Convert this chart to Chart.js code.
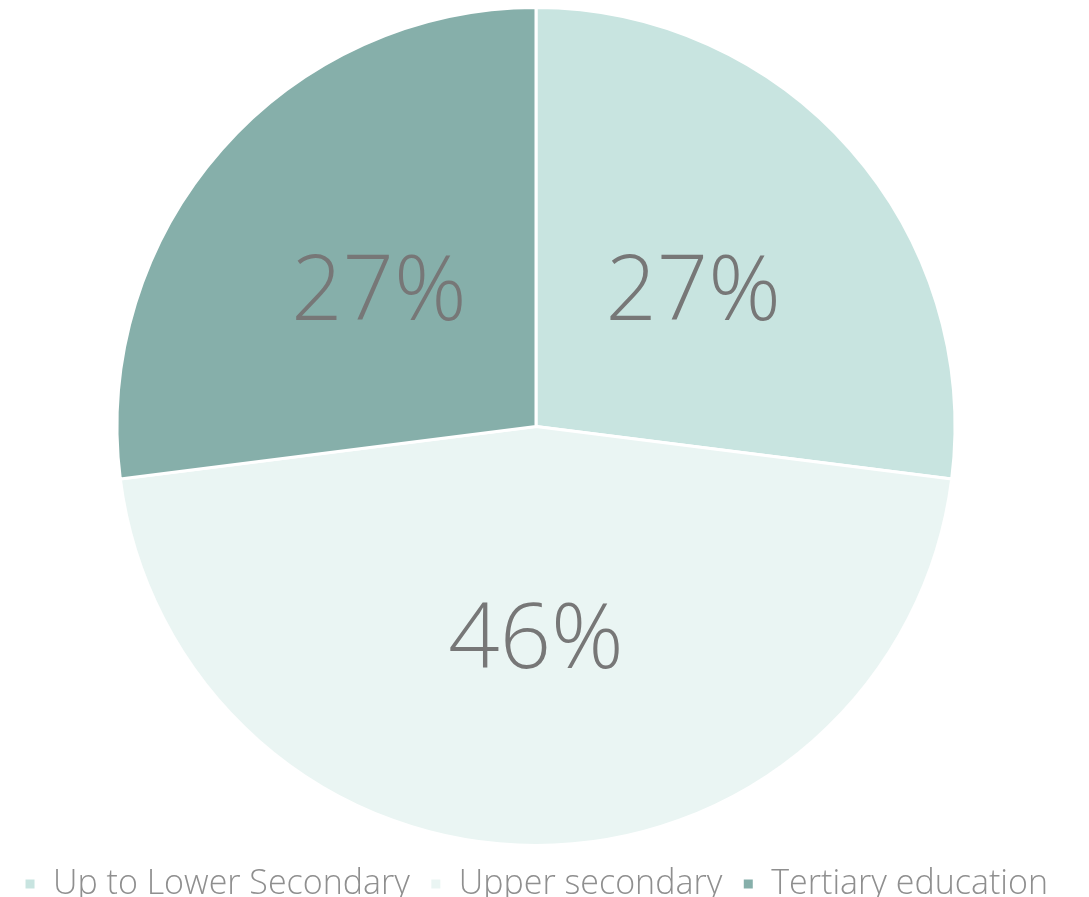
<!DOCTYPE html>
<html>
<head>
<meta charset="utf-8">
<script src="https://cdn.jsdelivr.net/npm/chart.js@4"></script>
<style>
  html, body { margin: 0; padding: 0; background: #fff; }
  #wrap { width: 1089px; height: 897px; }
</style>
</head>
<body>
<div id="wrap"><canvas id="eduChart"></canvas></div>
<script>
// Education level shares
const categories = ["Up to Lower Secondary", "Upper secondary", "Tertiary education"];
const shares = [27, 46, 27];
const sliceColors = ["#c8e4e0", "#eaf5f3", "#86afaa"];

const FONT = "'Open Sans', 'Noto Sans', sans-serif";

// Percentage labels in the middle of each slice
const sliceLabels = {
  id: "sliceLabels",
  afterDatasetsDraw(chart) {
    const ctx = chart.ctx;
    const meta = chart.getDatasetMeta(0);
    ctx.save();
    ctx.font = "300 90px " + FONT;
    ctx.fillStyle = "#777777";
    ctx.textAlign = "center";
    ctx.textBaseline = "middle";
    meta.data.forEach((arc, i) => {
      const pos = arc.tooltipPosition();
      ctx.fillText(shares[i] + "%", pos.x, pos.y + 6);
    });
    ctx.restore();
  },
};

document.addEventListener("DOMContentLoaded", function () {
  const ctx = document.getElementById("eduChart").getContext("2d");
  new Chart(ctx, {
    type: "pie",
    data: {
      labels: categories,
      datasets: [
        {
          data: shares,
          backgroundColor: sliceColors,
          borderColor: "#ffffff",
          borderWidth: 3,
        },
      ],
    },
    options: {
      responsive: true,
      maintainAspectRatio: false,
      animation: false,
      layout: {
        // legend sits low, close to the bottom edge
        padding: { top: 6, left: 0, right: 17, bottom: -14 },
      },
      plugins: {
        tooltip: { enabled: false },
        legend: {
          position: "bottom",
          labels: {
            boxWidth: 12,
            boxHeight: 12,
            padding: 20,
            color: "#8f8f8f",
            font: { family: FONT, size: 34, weight: "300" },
          },
        },
      },
    },
    plugins: [sliceLabels],
  });
});
</script>
</body>
</html>
